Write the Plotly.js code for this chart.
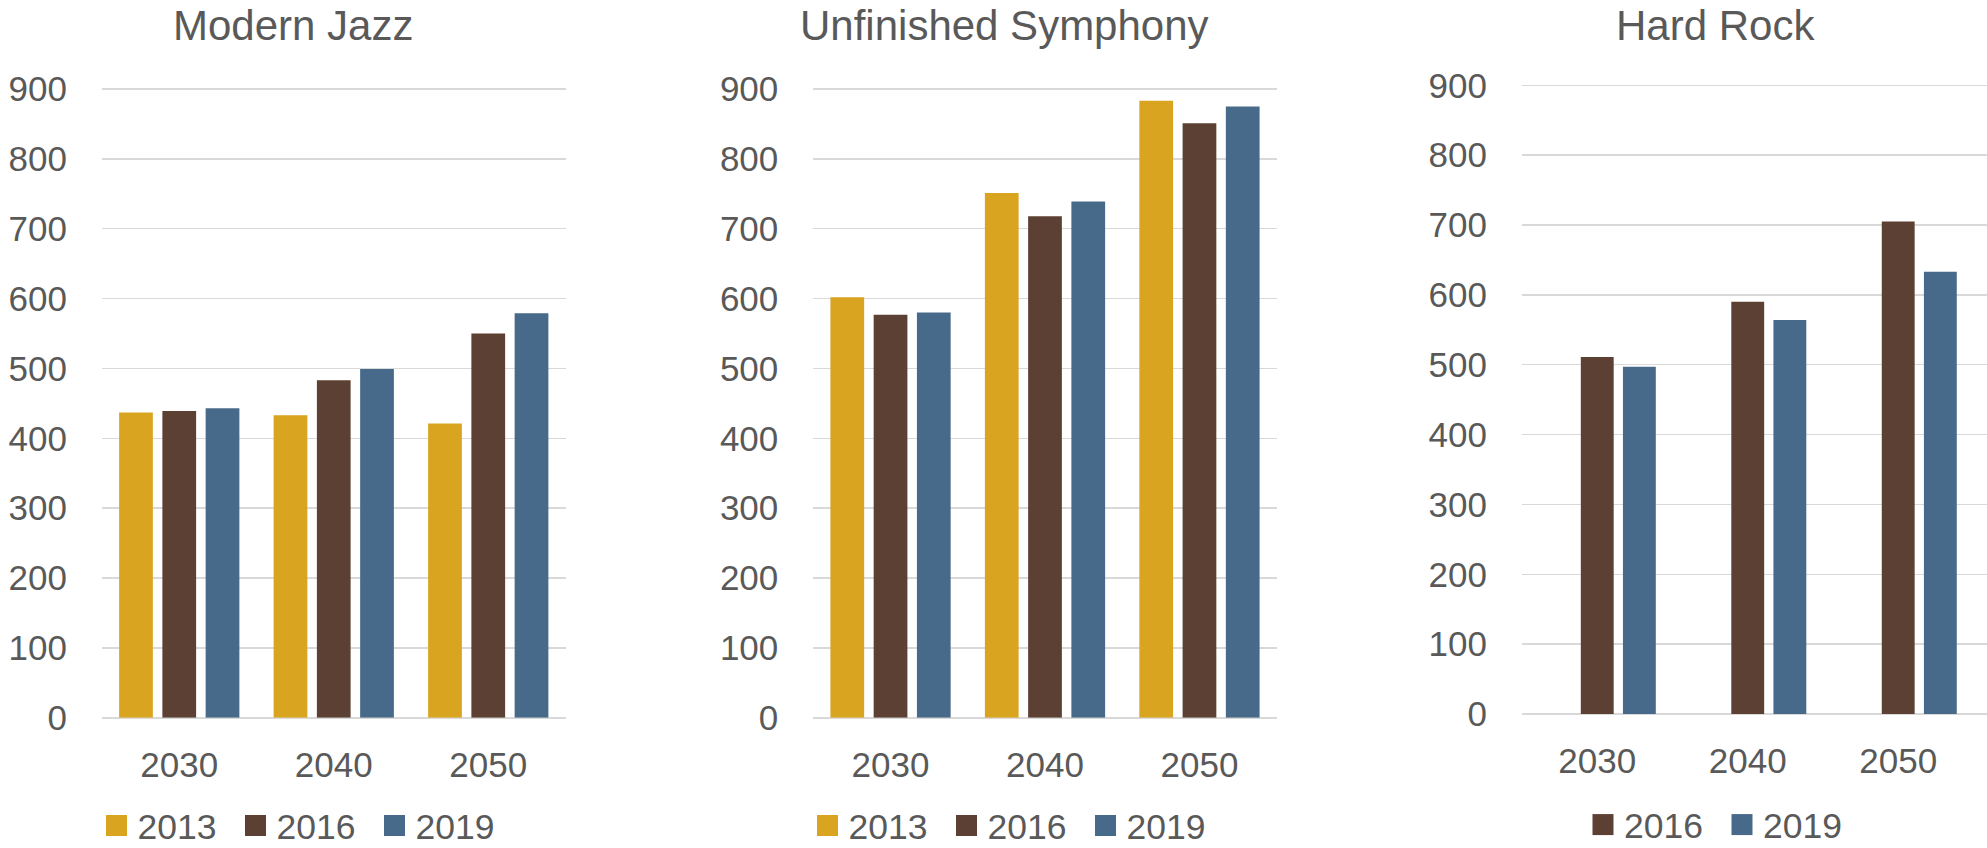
<!DOCTYPE html>
<html>
<head>
<meta charset="utf-8">
<script src="https://cdn.plot.ly/plotly-3.0.1.min.js"></script>
<style>
  html, body { margin: 0; padding: 0; background: #ffffff; }
  #chart { width: 1987px; height: 848px; }
</style>
</head>
<body>
<div id="chart"></div>
<script>
// Categories and series
const categories = ['2030', '2040', '2050'];
const seriesNames = ['2013', '2016', '2019'];

// Modern Jazz
const jazz2013 = [437, 433, 421];
const jazz2016 = [439, 483, 550];
const jazz2019 = [443, 499, 579];

// Unfinished Symphony
const symphony2013 = [602, 751, 883];
const symphony2016 = [577, 718, 851];
const symphony2019 = [580, 739, 875];

// Hard Rock (no 2013 figures)
const rock2013 = [null, null, null];
const rock2016 = [511, 590, 705];
const rock2019 = [497, 564, 633];

const panelTitles = ['Modern Jazz', 'Unfinished Symphony', 'Hard Rock'];
const yTicks = [0, 100, 200, 300, 400, 500, 600, 700, 800, 900];

const colors = { '2013': '#D9A521', '2016': '#5C4033', '2019': '#486A8A' };
const textColor = '#595959';
const gridColor = '#D9D9D9';
const FONT = '"Liberation Sans", Arial, Helvetica, sans-serif';

const W = 1987, H = 848;
const px = v => v / W;
const py = v => 1 - v / H;

// value axis tops out slightly above 900 so the 900 gridline is drawn
const Y_MAX = 902;
const PX_PER_UNIT = (717.7 - 89) / 900;

const panels = [
  { key: '', legend: 'legend', data: [jazz2013, jazz2016, jazz2019], show: [true, true, true],
    x0: 102, x1: 565.5, yBot: 717.7, xRange: [-0.5, 2.5],
    titleX: 292.5, legendX: 306, legendY: 826 },
  { key: '2', legend: 'legend2', data: [symphony2013, symphony2016, symphony2019], show: [true, true, true],
    x0: 813.3, x1: 1276.7, yBot: 717.7, xRange: [-0.5, 2.5],
    titleX: 1004, legendX: 1017, legendY: 826 },
  { key: '3', legend: 'legend3', data: [rock2013, rock2016, rock2019], show: [false, true, true],
    x0: 1522, x1: 1987, yBot: 714, xRange: [-0.5, 2.59],
    titleX: 1715, legendX: 1723, legendY: 825 }
];

const traces = [];
const layout = {
  width: W, height: H,
  margin: { l: 0, r: 0, t: 0, b: 0, pad: 0, autoexpand: false },
  paper_bgcolor: '#ffffff', plot_bgcolor: '#ffffff',
  barmode: 'group', bargap: 0.16, bargroupgap: 0.22,
  font: { family: FONT, color: textColor, size: 35 },
  showlegend: true,
  annotations: []
};

panels.forEach((p, i) => {
  const xa = 'x' + p.key, ya = 'y' + p.key;
  const yTop = p.yBot - Y_MAX * PX_PER_UNIT;
  seriesNames.forEach((name, s) => {
    traces.push({
      type: 'bar', name: name, x: categories, y: p.data[s],
      xaxis: xa, yaxis: ya, legend: p.legend,
      showlegend: p.show[s],
      marker: { color: colors[name], line: { width: 0 } },
      hoverinfo: 'skip'
    });
  });

  layout['xaxis' + p.key] = {
    type: 'category', domain: [px(p.x0), px(p.x1)], anchor: ya, range: p.xRange,
    showgrid: false, zeroline: false, showline: false, ticks: '',
    ticklabelstandoff: 23,
    tickfont: { family: FONT, size: 35, color: textColor }, fixedrange: true
  };
  layout['yaxis' + p.key] = {
    domain: [py(p.yBot), py(yTop)], anchor: xa, range: [0, Y_MAX],
    tickmode: 'array', tickvals: yTicks, ticktext: yTicks.map(String),
    showgrid: true, gridcolor: gridColor, gridwidth: 1.5,
    zeroline: true, zerolinecolor: gridColor, zerolinewidth: 2,
    showline: false, ticks: '', ticklabelstandoff: 34,
    tickfont: { family: FONT, size: 35, color: textColor }, fixedrange: true
  };
  layout[p.legend] = {
    orientation: 'h', x: px(p.legendX), xanchor: 'center',
    y: py(p.legendY), yanchor: 'middle', traceorder: 'normal',
    font: { family: FONT, size: 35.5, color: textColor },
    bgcolor: 'rgba(0,0,0,0)', borderwidth: 0, itemwidth: 30,
    entrywidthmode: 'pixels', entrywidth: 94
  };
  layout.annotations.push({
    text: panelTitles[i], xref: 'paper', yref: 'paper',
    x: px(p.titleX), y: 1, xanchor: 'center', yanchor: 'top',
    showarrow: false, font: { family: FONT, size: 42, color: textColor }
  });
});

// larger square swatches in the legends
function enlargeSwatches() {
  document.querySelectorAll('g.legendpoints path').forEach(el => {
    el.setAttribute('d', 'M10.5,10.5H-10.5V-10.5H10.5Z');
    el.setAttribute('transform', 'translate(19,0)');
  });
}

const gd = document.getElementById('chart');
Plotly.newPlot(gd, traces, layout, { staticPlot: true, displayModeBar: false }).then(() => {
  enlargeSwatches();
  setTimeout(enlargeSwatches, 50);
});
gd.on && gd.on('plotly_afterplot', enlargeSwatches);
</script>
</body>
</html>
